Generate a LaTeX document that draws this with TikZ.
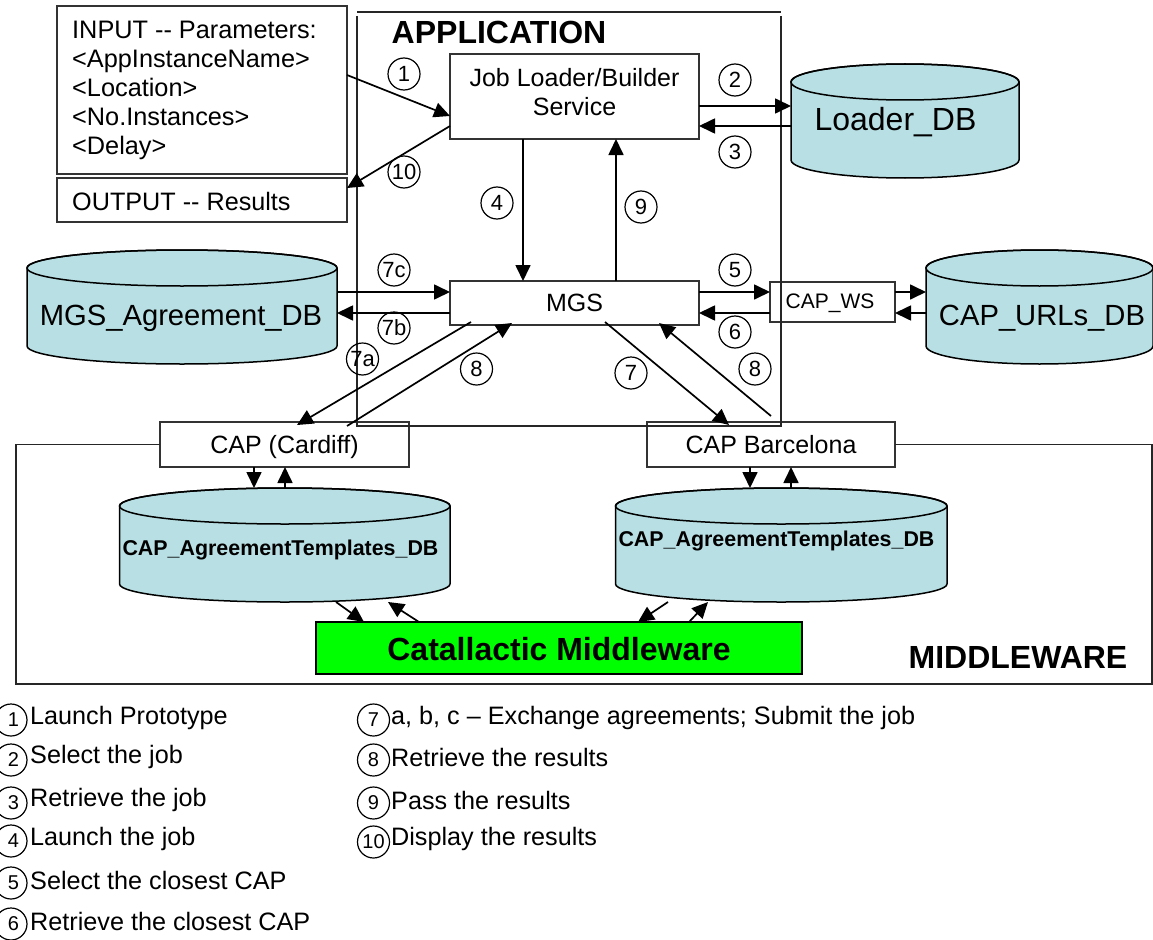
\documentclass[tikz,border=0pt]{standalone}
\usepackage{fontspec}
\setmainfont{Liberation Sans}
\usetikzlibrary{arrows.meta,shapes.geometric}
\definecolor{dbfill}{HTML}{B8DFE3}
\definecolor{mwgreen}{HTML}{00FF00}
\newcommand{\fs}[1]{\fontsize{#1}{#1}\selectfont}
% name, x1, ytop, x2, ybottom
\newcommand{\DBcyl}[5]{%
  \path[dbline,fill=dbfill] (#2,{#3+18}) -- (#2,{#5-18})
     arc[start angle=180,end angle=360,x radius={(#4-#2)/2*1pt},y radius=18pt]
     -- (#4,{#3+18}) arc[start angle=0,end angle=180,x radius={(#4-#2)/2*1pt},y radius=18pt] -- cycle;
  \draw[dbline] ({(#2+#4)/2},{#3+18}) ellipse [x radius={(#4-#2)/2*1pt},y radius=18pt];
  \node[dbarea,minimum width={(#4-#2)*1pt},minimum height={(#5-#3)*1pt}] (#1) at ({(#2+#4)/2},{(#3+#5)/2}) {};
}
\tikzset{
  x=1pt,y=-1pt,
  boxn/.style={draw=black!80,line width=1.5pt,fill=white,inner sep=0pt,outer sep=0pt,align=center,font=\fs{25},text height=17.5pt,text depth=0pt},
  dbline/.style={draw=black,line width=1.5pt},
  dbarea/.style={inner sep=0pt,outer sep=0pt},
  arr/.style={line width=1.7pt,-{Triangle[length=16pt,width=15pt]}},
  frameline/.style={line width=1.6pt,draw=black!85},
  num/.style={circle,draw=black,line width=1.2pt,minimum size=32pt,inner sep=0pt,font=\fs{22}},
  lnum/.style={circle,draw=black,line width=1.2pt,minimum size=32pt,inner sep=0pt,font=\fs{20}},
  ltext/.style={anchor=west,inner sep=0pt,font=\fs{25.2}},
  dbtext/.style={inner sep=0pt},
}
\begin{document}
\begin{tikzpicture}
\useasboundingbox (0,0) rectangle (1153,939);
% middleware frame
\node[boxn,minimum width=249pt,minimum height=45pt] (cardiff) at (284.5,444.5) {CAP (Cardiff)};
\node[boxn,minimum width=248pt,minimum height=45pt] (barca) at (771,444.5) {CAP Barcelona};
\draw[frameline] (cardiff.west) -- (16,0 |- cardiff.west) -- (16,684) -- (1152,684) -- (1152,0 |- barca.east) -- (barca.east);
% boxes
\node[boxn,anchor=north west,minimum width=290pt,minimum height=168pt,text height=0pt] (input) at (57,6) {};
\node[anchor=north west,inner sep=0pt,align=left,font=\fontsize{25.3}{29}\selectfont] (inputtext) at (72,21) {INPUT -{}- Parameters:\\{<}AppInstanceName{>}\\{<}Location{>}\\{<}No.Instances{>}\\{<}Delay{>}};
\node[boxn,minimum width=290pt,minimum height=44pt,text height=0pt] (output) at (202,200) {};
\node[ltext] (outputtext) at (72,201) {OUTPUT -{}- Results};
\node[boxn,minimum width=249pt,minimum height=85pt,text height=0pt] (job) at (574.5,96.5) {};
\node[inner sep=0pt,align=center,font=\fontsize{25}{29}\selectfont] (jobtext) at (574.5,92) {Job Loader/Builder\\Service};
\node[boxn,minimum width=249pt,minimum height=44pt] (mgs) at (574.5,303) {MGS};
\node[boxn,minimum width=125pt,minimum height=40pt,font=\fs{21},text height=12pt] (capws) at (832.5,302) {\hspace*{-5pt}CAP\_WS};
% application frame
\draw[frameline] (357,12) -- (781,12);
\draw[frameline] (357,16) -- (357,426) -- (781,426) -- (781,16);
\node[inner sep=0pt,font=\bfseries\fs{32}] (apptitle) at (499,32) {APPLICATION};
% databases
\DBcyl{loader}{791}{64}{1019}{178}
\node[dbtext,font=\fs{32}] (loadertext) at (895.5,122) {Loader\_DB};
\DBcyl{mgsdb}{27}{250}{337}{364}
\node[dbtext,font=\fs{29.2}] (mgsdbtext) at (181,318) {MGS\_Agreement\_DB};
\DBcyl{urls}{926}{250}{1153}{364}
\node[dbtext,font=\fs{29.2}] (urlstext) at (1042,318) {CAP\_URLs\_DB};
\DBcyl{tpl}{119.5}{488}{450}{602}
\node[dbtext,font=\bfseries\fs{21.4}] (tpltext) at (280.5,550) {CAP\_AgreementTemplates\_DB};
\DBcyl{tpr}{615.5}{488}{947}{602}
\node[dbtext,font=\bfseries\fs{21.4}] (tprtext) at (776.5,541) {CAP\_AgreementTemplates\_DB};
\node[draw=black,line width=1.5pt,fill=mwgreen,inner sep=0pt,outer sep=0pt,minimum width=486pt,minimum height=52pt,font=\bfseries\fs{32},text height=24pt,text depth=0pt] (mw) at (559,648) {Catallactic Middleware};
\node[inner sep=0pt,font=\bfseries\fs{32}] (mwtitle) at (1018,657) {MIDDLEWARE};
% connectors
\draw[arr] (input.east |- 0,75) -- (job.west |- 0,116);
\draw[arr] (job.west |- 0,126) -- (input.east |- 0,188);
\draw[arr] (job.east |- 0,106) -- (loader.west |- 0,106);
\draw[arr] (loader.west |- 0,126) -- (job.east |- 0,126);
\draw[arr] (523,0 |- job.south) -- (523,0 |- mgs.north);
\draw[arr] (616,0 |- mgs.north) -- (616,0 |- job.south);
\draw[arr] (mgs.east |- 0,292) -- (capws.west |- 0,292);
\draw[arr] (capws.west |- 0,313) -- (mgs.east |- 0,313);
\draw[arr] (capws.east |- 0,292) -- (urls.west |- 0,292);
\draw[arr] (urls.west |- 0,313) -- (capws.east |- 0,313);
\draw[arr] (mgsdb.east |- 0,292) -- (mgs.west |- 0,292);
\draw[arr] (mgs.west |- 0,313) -- (mgsdb.east |- 0,313);
\coordinate (a7s) at (471,322);
\coordinate (a7t) at (297,425);
\draw[arr] (a7s) -- (a7t);
\coordinate (a8s) at (347,426);
\coordinate (a8t) at (512,323);
\draw[arr] (a8s) -- (a8t);
\coordinate (b7s) at (605,322);
\coordinate (b7t) at (729,425);
\draw[arr] (b7s) -- (b7t);
\coordinate (b8s) at (771,416);
\coordinate (b8t) at (659,323);
\draw[arr] (b8s) -- (b8t);
\draw[arr] (254,0 |- cardiff.south) -- (254,0 |- tpl.north);
\draw[arr] (285,0 |- tpl.north) -- (285,0 |- cardiff.south);
\draw[arr] (750,0 |- barca.south) -- (750,0 |- tpr.north);
\draw[arr] (791,0 |- tpr.north) -- (791,0 |- barca.south);
\draw[arr] (336,0 |- tpl.south) -- (364,0 |- mw.north);
\draw[arr] (419,0 |- mw.north) -- (388,0 |- tpl.south);
\draw[arr] (668,0 |- tpr.south) -- (638,0 |- mw.north);
\draw[arr] (689,0 |- mw.north) -- (708,0 |- tpr.south);
% step circles
\node[num] (c1) at (404,74) {1};
\node[num] (c2) at (735,80) {2};
\node[num] (c3) at (735,152) {3};
\node[num] (c4) at (497,203) {4};
\node[num] (c5) at (735,270) {5};
\node[num] (c6) at (735,332) {6};
\node[num] (c7) at (631,373) {7};
\node[num] (c7a) at (362.5,359) {7a};
\node[num] (c7b) at (394,328) {7b};
\node[num] (c7c) at (394,270) {7c};
\node[num] (c8l) at (476.5,369) {8};
\node[num] (c8r) at (755,369) {8};
\node[num] (c9) at (641,207) {9};
\node[num] (c10) at (404,172) {10};
% legend
\node[lnum] (l1) at (11,720) {\hspace*{5pt}1};
\node[lnum] (l2) at (11,760) {\hspace*{5pt}2};
\node[lnum] (l3) at (11,803) {\hspace*{5pt}3};
\node[lnum] (l4) at (11,841) {\hspace*{5pt}4};
\node[lnum] (l5) at (11,883) {\hspace*{5pt}5};
\node[lnum] (l6) at (11,924) {\hspace*{5pt}6};
\node[lnum] (l7) at (373.5,720) {7};
\node[lnum] (l8) at (373.5,760) {8};
\node[lnum] (l9) at (373.5,803) {9};
\node[lnum] (l10) at (373.5,842) {10};
\node[ltext] (t1) at (30,718) {Launch Prototype};
\node[ltext] (t2) at (30,757) {Select the job};
\node[ltext] (t3) at (30,800) {Retrieve the job};
\node[ltext] (t4) at (30,839) {Launch the job};
\node[ltext] (t5) at (30,880) {Select the closest CAP};
\node[ltext] (t6) at (30,921) {Retrieve the closest CAP};
\node[ltext] (t7) at (391,718) {a, b, c – Exchange agreements; Submit the job};
\node[ltext] (t8) at (391,757) {Retrieve the results};
\node[ltext] (t9) at (391,800) {Pass the results};
\node[ltext] (t10) at (391,839) {Display the results};
\end{tikzpicture}
\end{document}
